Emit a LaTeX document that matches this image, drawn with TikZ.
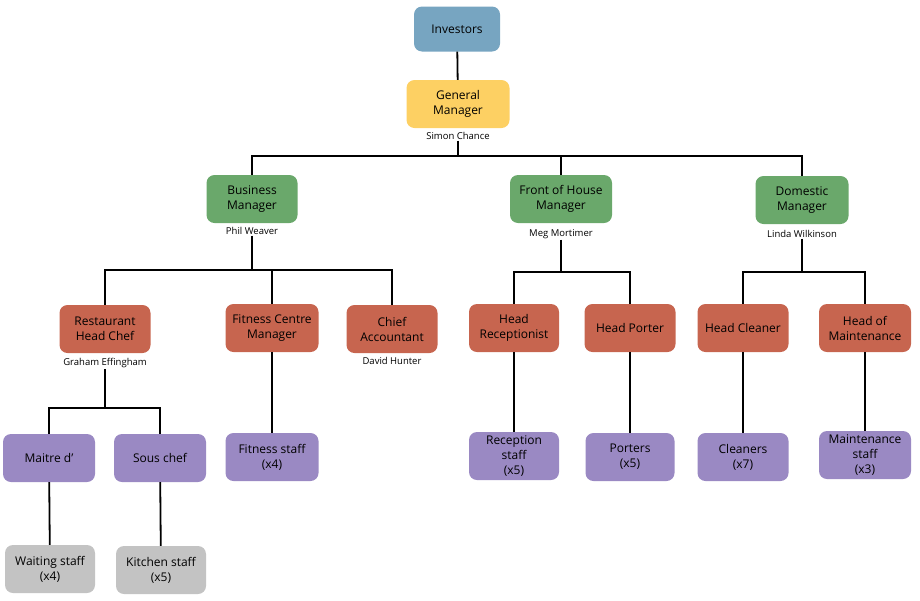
\documentclass[tikz,border=0pt]{standalone}
\usepackage{fontspec}
\setmainfont{Open Sans}
\usetikzlibrary{positioning,calc}
\definecolor{bluebox}{HTML}{77A5C1}
\definecolor{yellowbox}{HTML}{FDD063}
\definecolor{greenbox}{HTML}{6AA86B}
\definecolor{redbox}{HTML}{C7654F}
\definecolor{purplebox}{HTML}{9A89C3}
\definecolor{greybox}{HTML}{C3C3C3}

\tikzset{
  post/.style={rounded corners=8pt, minimum width=91pt, minimum height=48pt,
    align=center, inner sep=2pt, font=\fontsize{12}{15}\selectfont},
  holder/.style={font=\fontsize{9.5}{11}\selectfont, inner sep=1pt},
  link/.style={line width=1.8pt, black}
}

\begin{document}
\begin{tikzpicture}[x=1pt,y=-1pt]
\useasboundingbox (0,0) rectangle (920,600);

% top
\node[post, fill=bluebox, minimum width=86pt, minimum height=45pt] (inv) at (457,29) {Investors};
\node[post, fill=yellowbox, minimum width=103pt] (gm) at (458,104) {General\\Manager};
\node[holder, below=3pt of gm] (simon) {Simon Chance};

% managers
\node[post, fill=greenbox] (bm) at (252,199) {Business\\Manager};
\node[holder, below=3pt of bm] (phil) {Phil Weaver};
\node[post, fill=greenbox, minimum width=102pt] (foh) at (561,199) {Front of House\\Manager};
\node[holder, below=5pt of foh] (meg) {Meg Mortimer};
\node[post, fill=greenbox, minimum width=93pt] (dm) at (802,200) {Domestic\\Manager};
\node[holder, below=5pt of dm] (linda) {Linda Wilkinson};

% heads
\node[post, fill=redbox] (chef) at (105,329) {Restaurant\\Head Chef};
\node[holder, below=4pt of chef] (graham) {Graham Effingham};
\node[post, fill=redbox, minimum width=93pt] (fcm) at (272,328) {Fitness Centre\\Manager};
\node[post, fill=redbox] (acc) at (392,329) {Chief\\Accountant};
\node[holder, below=3pt of acc] (david) {David Hunter};
\node[post, fill=redbox, minimum width=90pt] (recep) at (514,328) {Head\\Receptionist};
\node[post, fill=redbox] (porter) at (630,328) {Head Porter};
\node[post, fill=redbox] (clean) at (743,328) {Head Cleaner};
\node[post, fill=redbox, minimum width=92pt] (maint) at (865,328) {Head of\\Maintenance};

% staff
\node[post, fill=purplebox, minimum width=92pt] (maitre) at (49,458) {Maitre d’};
\node[post, fill=purplebox, minimum width=92pt] (sous) at (160,458) {Sous chef};
\node[post, fill=purplebox, minimum width=93pt] (fstaff) at (272,457) {Fitness staff\\(x4)};
\node[post, fill=purplebox, minimum width=90pt] (rstaff) at (514,456) {Reception\\staff\\(x5)};
\node[post, fill=purplebox, minimum width=89pt] (porters) at (630,457) {Porters\\(x5)};
\node[post, fill=purplebox] (cleaners) at (743,457) {Cleaners\\(x7)};
\node[post, fill=purplebox, minimum width=92pt] (mstaff) at (865,455) {Maintenance\\staff\\(x3)};
\node[post, fill=greybox, minimum width=90pt] (waiting) at (50,569) {Waiting staff\\(x4)};
\node[post, fill=greybox, minimum width=90pt] (kitchen) at (161,570) {Kitchen staff\\(x5)};

% bars
\coordinate (bar1) at (0,156);
\coordinate (bar2) at (0,270);
\coordinate (bar3) at (0,272);
\coordinate (bar4) at (0,408);

\draw[link] (inv) -- (gm);
\foreach \c in {bm,foh,dm}
  \draw[link] (simon.south) -- (simon.south |- bar1) -| (\c.north);
\foreach \c in {chef,fcm,acc}
  \draw[link] (phil.south) -- (phil.south |- bar2) -| (\c.north);
\foreach \c in {recep,porter}
  \draw[link] (meg.south) -- (meg.south |- bar3) -| (\c.north);
\foreach \c in {clean,maint}
  \draw[link] (linda.south) -- (linda.south |- bar3) -| (\c.north);
\foreach \c in {maitre,sous}
  \draw[link] (graham.south) -- (graham.south |- bar4) -| (\c.north);

\draw[link] (fcm) -- (fstaff);
\draw[link] (recep) -- (rstaff);
\draw[link] (porter) -- (porters);
\draw[link] (clean) -- (cleaners);
\draw[link] (maint) -- (mstaff);
\draw[link] (maitre) -- (waiting);
\draw[link] (sous) -- (kitchen);
\end{tikzpicture}
\end{document}
